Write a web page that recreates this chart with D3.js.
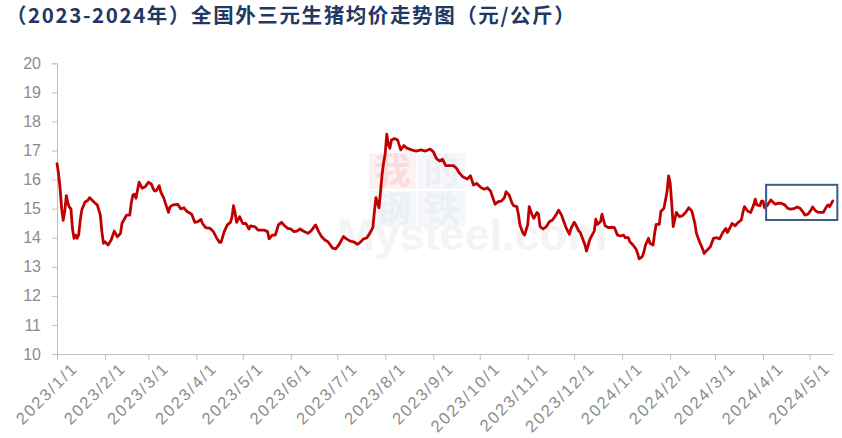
<!DOCTYPE html>
<html>
<head>
<meta charset="utf-8">
<script src="https://cdn.jsdelivr.net/npm/d3@7"></script>
<style>
  html, body { margin: 0; padding: 0; background: #fff; }
  svg { display: block; }
</style>
</head>
<body>
<svg id="chart" width="842" height="438"></svg>
<script>
const titleText = "（2023-2024年）全国外三元生猪均价走势图（元/公斤）";

const dates = [
  "2023/1/1","2023/1/2","2023/1/3","2023/1/4","2023/1/5","2023/1/6","2023/1/7","2023/1/8","2023/1/9","2023/1/10",
  "2023/1/11","2023/1/12","2023/1/13","2023/1/14","2023/1/15","2023/1/16","2023/1/17","2023/1/19","2023/1/21","2023/1/22",
  "2023/1/25","2023/1/27","2023/1/29","2023/1/30","2023/1/31","2023/2/1","2023/2/3","2023/2/5","2023/2/7","2023/2/9",
  "2023/2/11","2023/2/12","2023/2/15","2023/2/17","2023/2/18","2023/2/19","2023/2/20","2023/2/21","2023/2/23","2023/2/25",
  "2023/2/27","2023/3/1","2023/3/3","2023/3/4","2023/3/5","2023/3/6","2023/3/8","2023/3/9","2023/3/11","2023/3/12",
  "2023/3/14","2023/3/15","2023/3/17","2023/3/20","2023/3/22","2023/3/24","2023/3/26","2023/3/29","2023/3/31","2023/4/2",
  "2023/4/4","2023/4/5","2023/4/7","2023/4/10","2023/4/12","2023/4/14","2023/4/16","2023/4/17","2023/4/19","2023/4/21",
  "2023/4/23","2023/4/24","2023/4/25","2023/4/26","2023/4/27","2023/4/29","2023/5/1","2023/5/3","2023/5/5","2023/5/6",
  "2023/5/9","2023/5/11","2023/5/15","2023/5/17","2023/5/18","2023/5/20","2023/5/22","2023/5/24","2023/5/26","2023/5/28",
  "2023/5/30","2023/6/1","2023/6/3","2023/6/5","2023/6/7","2023/6/9","2023/6/12","2023/6/14","2023/6/17","2023/6/19",
  "2023/6/21","2023/6/23","2023/6/25","2023/6/28","2023/6/30","2023/7/2","2023/7/5","2023/7/7","2023/7/9","2023/7/12",
  "2023/7/14","2023/7/16","2023/7/18","2023/7/20","2023/7/22","2023/7/24","2023/7/25","2023/7/26","2023/7/28","2023/7/29",
  "2023/7/30","2023/7/31","2023/8/1","2023/8/2","2023/8/3","2023/8/4","2023/8/5","2023/8/7","2023/8/9","2023/8/11",
  "2023/8/13","2023/8/15","2023/8/18","2023/8/21","2023/8/24","2023/8/27","2023/8/30","2023/9/1","2023/9/3","2023/9/5",
  "2023/9/7","2023/9/9","2023/9/11","2023/9/14","2023/9/16","2023/9/18","2023/9/20","2023/9/23","2023/9/25","2023/9/27",
  "2023/9/29","2023/10/2","2023/10/4","2023/10/6","2023/10/8","2023/10/9","2023/10/11","2023/10/13","2023/10/15","2023/10/17",
  "2023/10/18","2023/10/20","2023/10/22","2023/10/23","2023/10/25","2023/10/26","2023/10/27","2023/10/29","2023/10/30","2023/11/1",
  "2023/11/2","2023/11/4","2023/11/5","2023/11/7","2023/11/8","2023/11/9","2023/11/11","2023/11/13","2023/11/15","2023/11/17",
  "2023/11/19","2023/11/21","2023/11/23","2023/11/24","2023/11/26","2023/11/28","2023/11/29","2023/12/1","2023/12/2","2023/12/4",
  "2023/12/5","2023/12/8","2023/12/9","2023/12/11","2023/12/12","2023/12/14","2023/12/15","2023/12/16","2023/12/18","2023/12/19",
  "2023/12/21","2023/12/23","2023/12/25","2023/12/27","2023/12/29","2023/12/31","2024/1/2","2024/1/3","2024/1/5","2024/1/6",
  "2024/1/8","2024/1/10","2024/1/11","2024/1/12","2024/1/14","2024/1/15","2024/1/16","2024/1/18","2024/1/19","2024/1/21",
  "2024/1/22","2024/1/23","2024/1/25","2024/1/26","2024/1/28","2024/1/30","2024/1/31","2024/2/1","2024/2/2","2024/2/3",
  "2024/2/5","2024/2/7","2024/2/9","2024/2/11","2024/2/13","2024/2/15","2024/2/17","2024/2/18","2024/2/20","2024/2/22",
  "2024/2/23","2024/2/25","2024/2/27","2024/2/29","2024/3/2","2024/3/4","2024/3/6","2024/3/8","2024/3/9","2024/3/11",
  "2024/3/12","2024/3/14","2024/3/16","2024/3/18","2024/3/19","2024/3/20","2024/3/22","2024/3/24","2024/3/26","2024/3/27",
  "2024/3/28","2024/3/30","2024/3/31","2024/4/1","2024/4/2","2024/4/4","2024/4/6","2024/4/7","2024/4/9","2024/4/11",
  "2024/4/13","2024/4/15","2024/4/17","2024/4/19","2024/4/21","2024/4/23","2024/4/25","2024/4/27","2024/4/28","2024/4/30",
  "2024/5/2","2024/5/3","2024/5/5","2024/5/7","2024/5/9","2024/5/10","2024/5/12","2024/5/13","2024/5/14","2024/5/16"
];

const prices = [
  16.55,16.20,15.70,15.00,14.60,14.90,15.45,15.20,15.05,15.00,
  14.30,13.98,14.09,13.98,14.10,14.60,14.95,15.22,15.29,15.38,
  15.22,15.13,14.78,14.20,13.81,13.86,13.75,13.92,14.23,14.03,
  14.15,14.50,14.78,14.78,15.20,15.47,15.50,15.36,15.91,15.70,
  15.75,15.91,15.84,15.70,15.61,15.61,15.79,15.58,15.36,15.19,
  14.87,15.06,15.13,15.15,14.99,15.03,14.90,14.81,14.53,14.55,
  14.63,14.49,14.35,14.32,14.21,14.00,13.84,13.85,14.21,14.44,
  14.53,14.70,15.10,14.86,14.53,14.72,14.49,14.49,14.30,14.41,
  14.37,14.26,14.26,14.21,13.96,14.09,14.09,14.44,14.53,14.41,
  14.32,14.30,14.21,14.23,14.30,14.23,14.15,14.23,14.44,14.21,
  14.03,13.92,13.86,13.64,13.62,13.75,14.04,13.96,13.89,13.85,
  13.77,13.85,13.96,13.99,14.15,14.35,14.90,15.38,15.03,15.60,
  16.20,16.60,16.90,17.56,17.20,17.08,17.36,17.41,17.36,17.02,
  17.17,17.08,17.02,16.98,17.02,16.98,17.05,16.96,16.73,16.64,
  16.70,16.48,16.48,16.48,16.39,16.22,16.10,16.02,16.13,15.81,
  15.87,15.72,15.67,15.72,15.61,15.45,15.15,15.24,15.26,15.38,
  15.58,15.47,15.18,15.10,15.07,14.81,14.44,14.15,14.09,14.44,
  15.07,14.76,14.67,14.87,14.81,14.38,14.30,14.38,14.55,14.61,
  14.76,14.95,14.76,14.61,14.32,14.12,14.32,14.53,14.45,14.23,
  14.18,13.75,13.54,13.92,14.03,14.23,14.64,14.46,14.55,14.81,
  14.41,14.35,14.36,14.35,14.09,14.06,14.09,14.00,14.00,13.86,
  13.75,13.61,13.46,13.27,13.35,13.50,13.73,13.98,13.81,13.75,
  14.15,14.46,14.46,14.90,15.01,15.58,16.13,15.90,15.20,14.38,
  14.87,14.72,14.76,14.87,15.03,14.92,14.49,14.15,13.86,13.61,
  13.46,13.58,13.69,13.98,14.00,13.96,14.18,14.32,14.18,14.38,
  14.49,14.41,14.53,14.61,14.87,15.07,14.92,14.87,15.13,15.33,
  15.13,15.10,15.26,15.26,15.03,15.13,15.30,15.24,15.15,15.19,
  15.18,15.13,15.01,14.98,15.00,15.06,15.01,14.87,14.78,14.81,
  14.95,15.06,14.92,14.87,14.87,14.87,15.07,15.13,15.07,15.26
];

const yTicks = [10, 11, 12, 13, 14, 15, 16, 17, 18, 19, 20];
const xStart = "2023/1/1";
const xEnd = "2024/5/16";

// highlight box annotation (recent period)
const boxDates = ["2024/4/3", "2024/5/19"];
const boxValues = [14.61, 15.82];

const parse = d3.timeParse("%Y/%m/%d");
const fmt = d3.timeFormat("%Y/%-m/%-d");
const data = dates.map((d, i) => ({ date: parse(d), value: prices[i] }));

const svg = d3.select("#chart");

const x = d3.scaleTime().domain([parse(xStart), parse(xEnd)]).range([57, 832.7]);
const y = d3.scaleLinear().domain([10, 20]).range([354, 63.3]);

// watermark (very faint)
const wm = svg.append("g").attr("class", "watermark");
const wmChars = [["我", "#fdf1f1", "#f9dcdc"], ["的", "#f6f7fb", "#eceff6"], ["钢", "#f6f7fb", "#eceff6"], ["铁", "#f6f7fb", "#eceff6"]];
wmChars.forEach((c, i) => {
  const cx = 369 + (i % 2) * 49, cy = 153 + Math.floor(i / 2) * 38;
  wm.append("rect").attr("x", cx).attr("y", cy).attr("width", 47).attr("height", 36).attr("fill", c[1]);
  wm.append("text").attr("x", cx + 23.5).attr("y", cy + 31).attr("text-anchor", "middle")
    .attr("font-family", "Noto Sans CJK SC").attr("font-weight", "bold").attr("font-size", 36).attr("fill", c[2]).text(c[0]);
});
wm.append("text").attr("x", 337).attr("y", 250).attr("font-family", "Liberation Sans, Arial")
  .attr("font-weight", "bold").attr("font-size", 45).attr("fill", "#f4f4f4").text("Mysteel.com");

// title
svg.append("text")
  .attr("x", 6).attr("y", 23)
  .attr("font-family", "Noto Sans CJK SC")
  .attr("font-weight", "bold")
  .attr("font-size", 20.5)
  .attr("letter-spacing", 1.6)
  .attr("fill", "#1f3864")
  .text(titleText);

// y axis
const yAxis = svg.append("g").attr("transform", "translate(57,0)")
  .call(d3.axisLeft(y).tickValues(yTicks).tickSize(5).tickPadding(11).tickFormat(d3.format("d")));
yAxis.select(".domain").attr("stroke", "#bfbfbf");
yAxis.selectAll(".tick line").attr("stroke", "#bfbfbf");
yAxis.selectAll("text").attr("fill", "#8c8c8c").attr("font-size", 16).attr("font-family", "Liberation Sans, Arial");

// x axis
const xAxis = svg.append("g").attr("transform", "translate(0,354)")
  .call(d3.axisBottom(x).ticks(d3.timeMonth.every(1)).tickSize(6).tickSizeOuter(0).tickFormat(fmt));
xAxis.select(".domain").attr("stroke", "#bfbfbf");
xAxis.selectAll(".tick line").attr("stroke", "#bfbfbf");
xAxis.selectAll("text")
  .attr("fill", "#8c8c8c").attr("font-size", 16.5).attr("letter-spacing", 1.9)
  .attr("font-family", "Liberation Sans, Arial")
  .attr("text-anchor", "end")
  .attr("transform", "translate(8,2) rotate(-45)")
  .attr("dy", "0.6em");

// line
const line = d3.line().x(d => x(d.date)).y(d => y(d.value)).curve(d3.curveLinear);
svg.append("path").datum(data)
  .attr("d", line)
  .attr("fill", "none")
  .attr("stroke", "#c00000")
  .attr("stroke-width", 2.8)
  .attr("stroke-linejoin", "round")
  .attr("stroke-linecap", "round");

// highlight box
svg.append("rect")
  .attr("x", x(parse(boxDates[0])))
  .attr("y", y(boxValues[1]))
  .attr("width", x(parse(boxDates[1])) - x(parse(boxDates[0])))
  .attr("height", y(boxValues[0]) - y(boxValues[1]))
  .attr("fill", "none")
  .attr("stroke", "#3b5b8c")
  .attr("stroke-width", 2);
</script>
</body>
</html>
